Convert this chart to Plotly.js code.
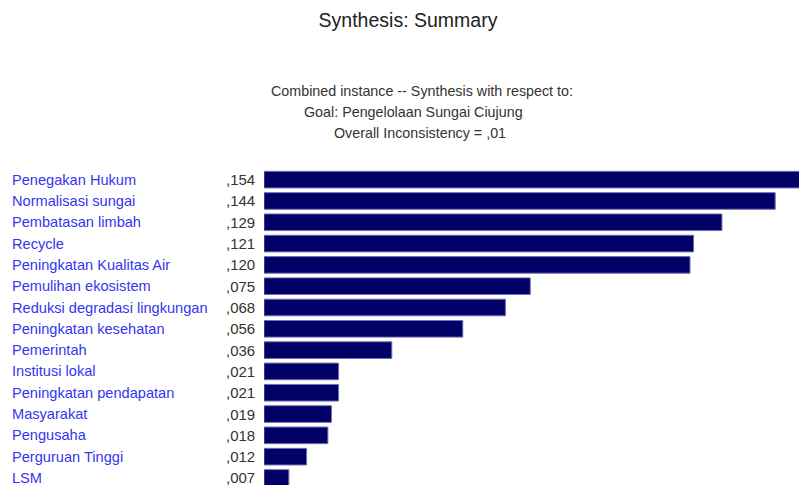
<!DOCTYPE html>
<html>
<head>
<meta charset="utf-8">
<script src="https://cdn.plot.ly/plotly-3.0.1.min.js"></script>
<style>html,body{margin:0;padding:0;background:#fff;}#chart{width:799px;height:485px;}</style>
</head>
<body>
<div id="chart"></div>
<script>
const categories = ["Penegakan Hukum","Normalisasi sungai","Pembatasan limbah","Recycle","Peningkatan Kualitas Air","Pemulihan ekosistem","Reduksi degradasi lingkungan","Peningkatan kesehatan","Pemerintah","Institusi lokal","Peningkatan pendapatan","Masyarakat","Pengusaha","Perguruan Tinggi","LSM"];
const values = [0.154,0.144,0.129,0.121,0.120,0.075,0.068,0.056,0.036,0.021,0.021,0.019,0.018,0.012,0.007];
const valueLabels = [",154",",144",",129",",121",",120",",075",",068",",056",",036",",021",",021",",019",",018",",012",",007"];
const titleText = "Synthesis: Summary";
const subtitleLines = ["Combined instance -- Synthesis with respect to:","Goal: Pengelolaan Sungai Ciujung","Overall Inconsistency = ,01"];

const W = 799, H = 485;
const plotL = 264, plotT = 168.7;
const plotW = W - plotL, plotH = H - plotT;
const px2x = p => (p - plotL) / plotW;
const py2y = p => (H - p) / plotH;

const font = "Liberation Sans, Arial, sans-serif";
const annotations = [];
categories.forEach((c, i) => {
  annotations.push({xref:'paper', yref:'y', x:px2x(10), y:c, text:c, showarrow:false,
    xanchor:'left', yanchor:'middle', font:{family:font, size:14.6, color:'#3535f0'}});
  annotations.push({xref:'paper', yref:'y', x:px2x(257), y:c, text:valueLabels[i], showarrow:false,
    xanchor:'right', yanchor:'middle', font:{family:font, size:15, color:'#333333'}});
});
const subCenters = [422, 413, 420];
const subY = [91, 112, 133];
subtitleLines.forEach((t, i) => {
  annotations.push({xref:'paper', yref:'paper', x:px2x(subCenters[i]), y:py2y(subY[i]), text:t, showarrow:false,
    xanchor:'center', yanchor:'middle', font:{family:font, size:14.3, color:'#333333'}});
});

const trace = {
  type:'bar', orientation:'h', y:categories, x:values,
  marker:{color:'#000066', line:{color:'#7070b8', width:1}},
  hoverinfo:'none'
};
const layout = {
  width:W, height:H,
  margin:{l:plotL, r:0, t:plotT, b:0, pad:0},
  paper_bgcolor:'#ffffff', plot_bgcolor:'#ffffff',
  title:{text:titleText, x:408/W, xanchor:'center', y:1-20/H, yanchor:'middle',
    font:{family:font, size:19.5, color:'#222222'}},
  xaxis:{range:[0, 535/3550], visible:false, fixedrange:true},
  yaxis:{type:'category', categoryorder:'array', categoryarray:categories,
    range:[14.33, -0.5], showticklabels:false, showgrid:false, zeroline:false, showline:false, ticks:''},
  bargap:0.22,
  showlegend:false,
  annotations:annotations
};
Plotly.newPlot('chart', [trace], layout, {staticPlot:true, displayModeBar:false});
</script>
</body>
</html>
